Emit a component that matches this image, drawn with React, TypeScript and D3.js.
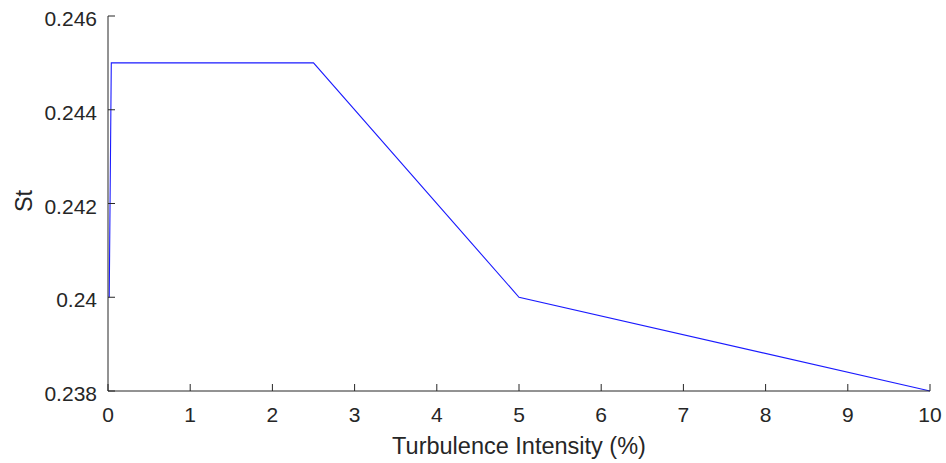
import React from "react";
import * as d3 from "d3";

const xValues = [0.015, 0.04, 2.5, 5, 10];
const stValues = [0.24, 0.245, 0.245, 0.24, 0.238];
const xTicks = [0, 1, 2, 3, 4, 5, 6, 7, 8, 9, 10];
const yTicks = [0.238, 0.24, 0.242, 0.244, 0.246];
const yTickLabels = ["0.238", "0.24", "0.242", "0.244", "0.246"];

const W = 946;
const H = 463;
const axisColor = "#262626";
const font = "'Liberation Sans', Arial, Helvetica, sans-serif";
const tickFont = 21;
const labelFont = 23.5;

export default function App() {
  const x = d3.scaleLinear().domain([0, 10]).range([108, 930]);
  const y = d3.scaleLinear().domain([0.238, 0.246]).range([391, 16]);
  const line = d3
    .line<number>()
    .x((_, i) => x(xValues[i]))
    .y((d) => y(d));
  const tickLen = 7;
  return (
    <svg
      width={W}
      height={H}
      style={{ position: "absolute", left: 0, top: 0, background: "#fff" }}
    >
      <path d={line(stValues) || ""} fill="none" stroke="#1a1aff" strokeWidth={1.1} />
      <line x1={x(0)} x2={x(10)} y1={y(0.238)} y2={y(0.238)} stroke={axisColor} strokeWidth={1} />
      <line x1={x(0)} x2={x(0)} y1={y(0.238)} y2={y(0.246)} stroke={axisColor} strokeWidth={1} />
      {xTicks.map((t) => (
        <g key={"x" + t}>
          <line
            x1={x(t)}
            x2={x(t)}
            y1={y(0.238)}
            y2={y(0.238) - tickLen}
            stroke={axisColor}
            strokeWidth={1}
          />
          <text
            x={x(t)}
            y={421.5}
            textAnchor="middle"
            fontFamily={font}
            fontSize={tickFont}
            fill={axisColor}
          >
            {t}
          </text>
        </g>
      ))}
      {yTicks.map((t, i) => (
        <g key={"y" + t}>
          <line
            x1={x(0)}
            x2={x(0) + tickLen}
            y1={y(t)}
            y2={y(t)}
            stroke={axisColor}
            strokeWidth={1}
          />
          <text
            x={97}
            y={y(t) + 10}
            textAnchor="end"
            fontFamily={font}
            fontSize={tickFont}
            fill={axisColor}
          >
            {yTickLabels[i]}
          </text>
        </g>
      ))}
      <text
        x={(x(0) + x(10)) / 2}
        y={454}
        textAnchor="middle"
        fontFamily={font}
        fontSize={labelFont}
        fill={axisColor}
      >
        Turbulence Intensity (%)
      </text>
      <text
        transform={`translate(32, 201) rotate(-90)`}
        textAnchor="middle"
        fontFamily={font}
        fontSize={labelFont}
        fill={axisColor}
      >
        St
      </text>
    </svg>
  );
}
